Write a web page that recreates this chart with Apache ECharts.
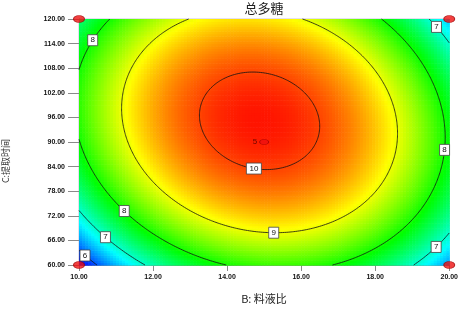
<!DOCTYPE html>
<html><head><meta charset="utf-8">
<script src="https://cdn.jsdelivr.net/npm/echarts@6/dist/echarts.min.js"></script>
<style>html,body{margin:0;padding:0;background:#fff}#c{width:461px;height:319px}</style>
</head><body><div id="c"></div>
<script>
// ---- chart data ----
const titleText = '总多糖';
const xName = 'B: 料液比';
const yName = 'C:提取时间';
const xRange = [10, 20];
const yRange = [60, 120];
const xInterval = 2;
const yInterval = 6;
// fitted quadratic model in coded units
const coefNames = ['Intercept', 'B', 'C', 'BC', 'B^2', 'C^2'];
const coefValues = [10.19, -0.04, 0.51, -0.41, -2.25, -1.51];
const contourLevels = [6, 7, 8, 9, 10];
// design points
const designB = [10, 10, 20, 20, 15];
const designC = [60, 120, 60, 120, 90];
const designReps = [1, 1, 1, 1, 5];
// contour label anchors (approximate, snapped onto the contour)
const labelLevel = [8, 8, 7, 6, 10, 9, 7, 8, 7];
const labelB = [10.34, 11.23, 10.74, 10.18, 14.75, 15.26, 19.75, 19.82, 19.6];
const labelC = [114.9, 73.2, 66.9, 62.4, 84.2, 68.3, 118.4, 88.1, 64.6];

// ---- model evaluation ----
const bMid = (xRange[0] + xRange[1]) / 2, bHalf = (xRange[1] - xRange[0]) / 2;
const cMid = (yRange[0] + yRange[1]) / 2, cHalf = (yRange[1] - yRange[0]) / 2;
function resp(x, y) {
  const b = (x - bMid) / bHalf, c = (y - cMid) / cHalf, k = coefValues;
  return k[0] + k[1] * b + k[2] * c + k[3] * b * c + k[4] * b * b + k[5] * c * c;
}

// heat cells
const NX = 120, NY = 100;
const cells = [];
let vmin = Infinity, vmax = -Infinity;
for (let i = 0; i < NX; i++) {
  for (let j = 0; j < NY; j++) {
    const x0 = xRange[0] + (xRange[1] - xRange[0]) * i / NX;
    const x1 = xRange[0] + (xRange[1] - xRange[0]) * (i + 1) / NX;
    const y0 = yRange[0] + (yRange[1] - yRange[0]) * j / NY;
    const y1 = yRange[0] + (yRange[1] - yRange[0]) * (j + 1) / NY;
    const v = resp((x0 + x1) / 2, (y0 + y1) / 2);
    vmin = Math.min(vmin, v); vmax = Math.max(vmax, v);
    cells.push([x0, y0, x1, y1, v]);
  }
}
const stops = [[0, [0, 0, 255]], [0.25, [0, 255, 255]], [0.5, [0, 255, 0]], [0.75, [255, 255, 0]], [1, [255, 20, 0]]];
function colorOf(v) {
  let t = (v - vmin) / (vmax - vmin);
  t = Math.max(0, Math.min(1, t));
  for (let s = 0; s < stops.length - 1; s++) {
    const a = stops[s], b = stops[s + 1];
    if (t <= b[0]) {
      const f = (t - a[0]) / (b[0] - a[0]);
      const c = a[1].map((q, idx) => Math.round(q + (b[1][idx] - q) * f));
      return 'rgb(' + c.join(',') + ')';
    }
  }
  return 'rgb(255,20,0)';
}

// marching squares contours
const MX = 200, MY = 200;
function contourSegments(L) {
  const segs = [];
  const dx = (xRange[1] - xRange[0]) / MX, dy = (yRange[1] - yRange[0]) / MY;
  for (let i = 0; i < MX; i++) {
    for (let j = 0; j < MY; j++) {
      const x0 = xRange[0] + i * dx, x1 = x0 + dx, y0 = yRange[0] + j * dy, y1 = y0 + dy;
      const c = [[x0, y0, resp(x0, y0)], [x1, y0, resp(x1, y0)], [x1, y1, resp(x1, y1)], [x0, y1, resp(x0, y1)]];
      const pts = [];
      for (let e = 0; e < 4; e++) {
        const p = c[e], q = c[(e + 1) % 4];
        if ((p[2] - L) * (q[2] - L) < 0) {
          const f = (L - p[2]) / (q[2] - p[2]);
          pts.push([p[0] + (q[0] - p[0]) * f, p[1] + (q[1] - p[1]) * f]);
        }
      }
      if (pts.length === 2) segs.push([pts[0], pts[1]]);
      else if (pts.length === 4) { segs.push([pts[0], pts[1]]); segs.push([pts[2], pts[3]]); }
    }
  }
  return segs;
}
const contourSegs = contourLevels.map(contourSegments);

// snap label anchors onto their contours
const labelData = labelLevel.map((L, i) => {
  let x = labelB[i], y = labelC[i];
  const sx = bHalf, sy = cHalf;
  for (let it = 0; it < 20; it++) {
    const h = 1e-4;
    const f = resp(x, y) - L;
    const gx = (resp(x + h * sx, y) - resp(x - h * sx, y)) / (2 * h);
    const gy = (resp(x, y + h * sy) - resp(x, y - h * sy)) / (2 * h);
    const g2 = gx * gx + gy * gy;
    if (g2 < 1e-12) break;
    x -= f * gx / g2 * sx; y -= f * gy / g2 * sy;
  }
  x = Math.min(Math.max(x, xRange[0] + 0.12), xRange[1] - 0.12);
  y = Math.min(Math.max(y, yRange[0] + 1.2), yRange[1] - 1.2);
  return [x, y, L];
});

const designData = designB.map((b, i) => [b, designC[i], designReps[i]]);

const chart = echarts.init(document.getElementById('c'), null, { renderer: 'canvas' });
const numFont = 'Liberation Sans';
const cjkFont = 'Noto Sans CJK SC';
chart.setOption({
  animation: false,
  grid: { left: 79, top: 19, width: 373, height: 246, show: true, borderColor: '#c8c0dc', borderWidth: 1 },
  xAxis: {
    type: 'value', min: xRange[0], max: xRange[1], interval: xInterval,
    axisLine: { show: true, lineStyle: { color: '#8a8a8a', width: 1 } },
    axisTick: { show: true, length: 6, lineStyle: { color: '#8a8a8a', width: 1 } },
    axisLabel: { formatter: v => v.toFixed(2), fontSize: 7, fontWeight: 'bold', color: '#111', margin: 9, fontFamily: numFont },
    splitLine: { show: false }
  },
  yAxis: {
    type: 'value', min: yRange[0], max: yRange[1], interval: yInterval,
    axisLine: { show: true, lineStyle: { color: '#8a8a8a', width: 1 } },
    axisTick: { show: true, length: 11, lineStyle: { color: '#8a8a8a', width: 1 } },
    axisLabel: { formatter: v => v.toFixed(2), fontSize: 7, fontWeight: 'bold', color: '#111', margin: 14, fontFamily: numFont },
    splitLine: { show: false }
  },
  graphic: [
    { type: 'text', x: 264, y: 2, style: { text: titleText, font: '13px "' + cjkFont + '"', fill: '#222', textAlign: 'center', textVerticalAlign: 'top' } },
    { type: 'text', x: 264, y: 299, style: { text: xName, font: '11px "' + cjkFont + '"', fill: '#222', textAlign: 'center', textVerticalAlign: 'middle' } },
    { type: 'text', x: 6, y: 161, rotation: Math.PI / 2, style: { text: yName, font: '9px "' + cjkFont + '"', fill: '#333', textAlign: 'center', textVerticalAlign: 'middle' } }
  ],
  series: [
    {
      type: 'custom', coordinateSystem: 'cartesian2d', data: cells, encode: { x: [0, 2], y: [1, 3] }, silent: true, z: 1,
      renderItem: function (params, api) {
        const p0 = api.coord([api.value(0), api.value(1)]);
        const p1 = api.coord([api.value(2), api.value(3)]);
        const x = Math.min(p0[0], p1[0]), y = Math.min(p0[1], p1[1]);
        return { type: 'rect', shape: { x: x, y: y, width: Math.abs(p1[0] - p0[0]) + 0.6, height: Math.abs(p1[1] - p0[1]) + 0.6 }, style: { fill: colorOf(api.value(4)) } };
      }
    },
    {
      type: 'custom', coordinateSystem: 'cartesian2d', data: contourLevels.map((L, i) => [xRange[0], yRange[0], i]), silent: true, z: 2,
      renderItem: function (params, api) {
        const segs = contourSegs[params.dataIndex];
        let d = '';
        for (const s of segs) {
          const a = api.coord(s[0]), b = api.coord(s[1]);
          d += 'M' + a[0].toFixed(2) + ' ' + a[1].toFixed(2) + 'L' + b[0].toFixed(2) + ' ' + b[1].toFixed(2);
        }
        return { type: 'path', shape: { pathData: d }, style: { stroke: 'rgba(20,20,20,0.9)', lineWidth: 0.9, fill: null } };
      }
    },
    {
      type: 'scatter', data: labelData, symbol: 'rect', z: 3, silent: true,
      symbolSize: v => (v[2] >= 10 ? [15, 11] : [10, 11]),
      itemStyle: { color: '#fff', borderColor: '#444', borderWidth: 0.8, opacity: 1 },
      label: { show: true, position: 'inside', formatter: p => String(p.value[2]), fontSize: 8, color: '#111', fontFamily: numFont }
    },
    {
      type: 'scatter', data: designData, clip: false, z: 4, silent: true, symbol: 'circle',
      symbolSize: v => (v[2] > 1 ? [9, 5] : [11, 7]),
      itemStyle: { color: '#ee1010', borderColor: '#a00000', borderWidth: 0.8 },
      label: { show: true, position: 'left', distance: 2, formatter: p => (p.value[2] > 1 ? String(p.value[2]) : ''), fontSize: 8, color: '#400', fontFamily: numFont }
    }
  ]
});
</script></body></html>
